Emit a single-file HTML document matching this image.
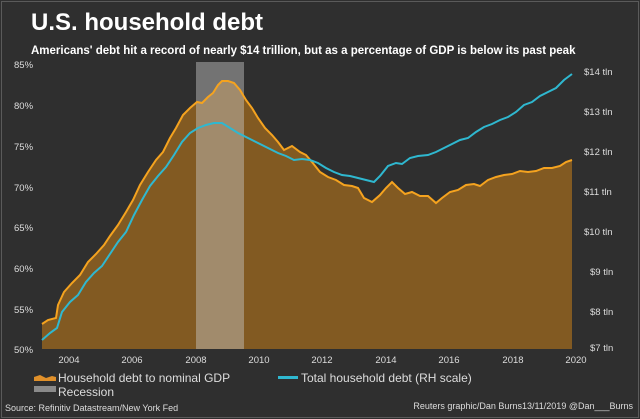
<!DOCTYPE html>
<html><head><meta charset="utf-8"><style>
body{margin:0;background:#2e2e2e;}
svg{display:block;font-family:"Liberation Sans",sans-serif;}
</style></head><body>
<svg width="640" height="419" viewBox="0 0 640 419">
<rect x="0" y="0" width="640" height="419" fill="#2f2f2f"/>
<rect x="1.5" y="1.5" width="637" height="416" fill="none" stroke="#5a5a5a" stroke-width="1"/>
<text x="31" y="30" fill="#fff" font-size="24" font-weight="bold">U.S. household debt</text>
<text x="31" y="54" fill="#fff" font-size="11.5" font-weight="bold">Americans' debt hit a record of nearly $14 trillion, but as a percentage of GDP is below its past peak</text>
<g fill="#ddd" font-size="9.5">
<text x="14" y="68">85%</text><text x="14" y="109">80%</text><text x="14" y="150">75%</text><text x="14" y="191">70%</text><text x="14" y="231">65%</text><text x="14" y="272">60%</text><text x="14" y="313">55%</text><text x="14" y="353">50%</text>
<text x="584" y="75">$14 tln</text><text x="584" y="115">$13 tln</text><text x="584" y="155">$12 tln</text><text x="584" y="195">$11 tln</text><text x="584" y="235">$10 tln</text><text x="590" y="275">$9 tln</text><text x="590" y="315">$8 tln</text><text x="590" y="351">$7 tln</text>
<g text-anchor="middle"><text x="69" y="363">2004</text><text x="132" y="363">2006</text><text x="196" y="363">2008</text><text x="259" y="363">2010</text><text x="322" y="363">2012</text><text x="386" y="363">2014</text><text x="449" y="363">2016</text><text x="513" y="363">2018</text><text x="576" y="363">2020</text></g>
</g>
<polygon fill="#825a22" points="42,349 42,324 48,320 56,318 58,305 64,292 72,283 80,275 88,262 96,254 104,245 110,236 118,225 126,212 133,200 140,185 148,172 156,160 163,152 170,138 176,128 183,115 190,108 197,102 202,103 208,97 213,93 218,85 222,81 228,81 234,83 240,90 246,100 252,108 258,118 265,128 272,135 278,142 284,150 292,146 300,152 306,155 312,162 320,172 328,177 336,180 344,185 352,186 358,188 364,198 372,202 380,195 386,188 392,182 398,188 405,194 412,192 420,196 428,196 436,203 442,198 450,192 458,190 466,185 474,184 480,186 488,180 496,177 504,175 512,174 520,171 528,172 536,171 544,168 552,168 560,166 566,162 572,160 572,349"/>
<rect x="196" y="62" width="48" height="287" fill="#c8c8c8" opacity="0.45"/>
<polyline fill="none" stroke="#f5a31f" stroke-width="2" points="42,324 48,320 56,318 58,305 64,292 72,283 80,275 88,262 96,254 104,245 110,236 118,225 126,212 133,200 140,185 148,172 156,160 163,152 170,138 176,128 183,115 190,108 197,102 202,103 208,97 213,93 218,85 222,81 228,81 234,83 240,90 246,100 252,108 258,118 265,128 272,135 278,142 284,150 292,146 300,152 306,155 312,162 320,172 328,177 336,180 344,185 352,186 358,188 364,198 372,202 380,195 386,188 392,182 398,188 405,194 412,192 420,196 428,196 436,203 442,198 450,192 458,190 466,185 474,184 480,186 488,180 496,177 504,175 512,174 520,171 528,172 536,171 544,168 552,168 560,166 566,162 572,160"/>
<polyline fill="none" stroke="#2fb8d0" stroke-width="2" points="42,340 50,333 57,328 62,312 70,302 78,295 86,282 94,273 102,266 110,254 118,242 126,232 134,215 142,200 150,186 158,176 166,167 174,155 182,142 190,133 198,128 206,125 214,123 222,123 230,128 238,133 246,137 254,141 262,145 270,149 278,153 286,156 294,160 302,159 310,160 318,163 326,168 334,172 342,175 350,176 358,178 366,180 374,182 380,176 388,166 396,163 402,164 410,158 418,156 428,155 436,152 444,148 452,144 460,140 468,138 476,132 484,127 492,124 500,120 508,117 516,112 524,105 532,102 540,96 548,92 556,88 564,80 572,74"/>
<polygon fill="#e0902a" points="34,377 40,375 46,378 52,376 56,377 56,381 34,381"/>
<rect x="34" y="386" width="22" height="6" fill="#8a8a8a"/>
<rect x="278" y="376" width="20" height="3" fill="#2fb8d0"/>
<g fill="#ddd" font-size="12">
<text x="58" y="382">Household debt to nominal GDP</text>
<text x="58" y="396">Recession</text>
<text x="301" y="382">Total household debt (RH scale)</text>
</g>
<g fill="#ddd" font-size="9">
<text x="5" y="411">Source: Refinitiv Datastream/New York Fed</text>
<text x="633" y="409" text-anchor="end">Reuters graphic/Dan Burns13/11/2019 @Dan___Burns</text>
</g>
</svg>
</body></html>
